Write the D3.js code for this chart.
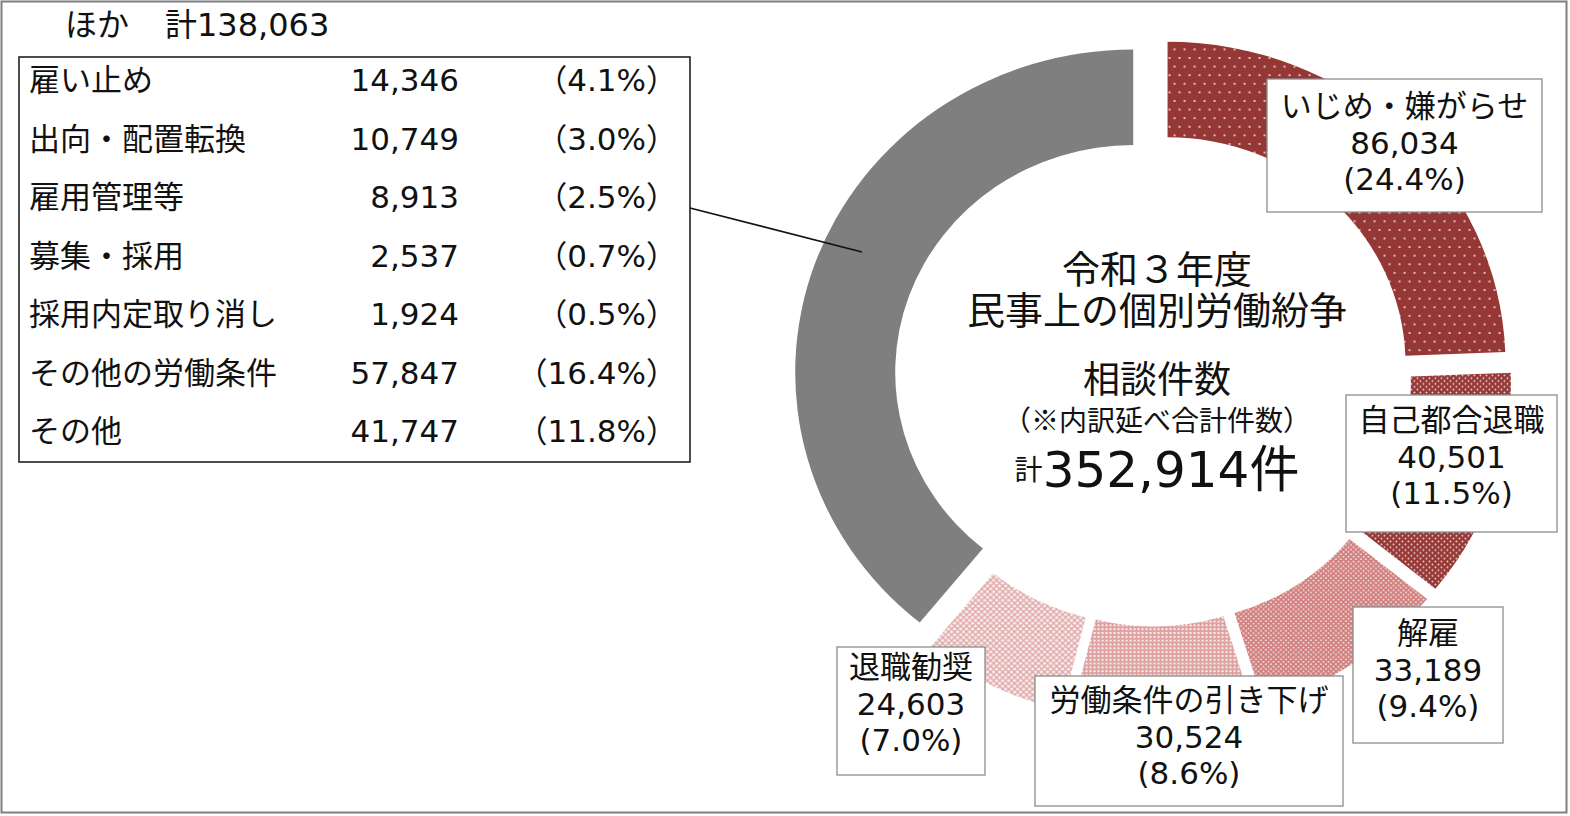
<!DOCTYPE html>
<html>
<head>
<meta charset="utf-8">
<script src="https://cdn.jsdelivr.net/npm/d3@7"></script>
<style>
  body { margin: 0; background: #fff; }
  text { font-family: "DejaVu Sans", "Noto Sans CJK JP", sans-serif; fill: #111; }
  .cjk { font-family: "Noto Sans CJK JP", sans-serif; }
</style>
</head>
<body>
<svg id="chart" width="1570" height="816"></svg>
<script>
// ---- data ----
var categories = ['いじめ・嫌がらせ', '自己都合退職', '解雇', '労働条件の引き下げ', '退職勧奨', 'ほか'];
var counts = [86034, 40501, 33189, 30524, 24603, 138063];

var otherNames = ['雇い止め', '出向・配置転換', '雇用管理等', '募集・採用', '採用内定取り消し', 'その他の労働条件', 'その他'];
var otherCounts = [14346, 10749, 8913, 2537, 1924, 57847, 41747];

var centerLines = ['令和３年度', '民事上の個別労働紛争', '相談件数', '（※内訳延べ合計件数）'];

// ---- layout ----
var W = 1570, H = 816;
var cx = 1153, cy = 379, squash = 0.955;
var outerR = 338, innerR = 238, explode = 21;

var fills = ['url(#p-bully)', 'url(#p-quit)', 'url(#p-fire)', 'url(#p-cut)', 'url(#p-push)', '#7f7f7f'];

// label boxes for the five named slices: [x, y, w, h, first line centre y]
var labelBoxes = [
  [1267, 79, 275, 133, 106],
  [1346, 395, 211, 137, 420],
  [1353, 607, 150, 136, 633],
  [1035, 676, 308, 130, 700],
  [837, 647, 148, 128, 667]
];
var lineGap = 36.5;

var total = d3.sum(counts);
var fmtN = d3.format(',');
var fmtP = function (v) { return d3.format('.1f')(v / total * 100) + '%'; };

var svg = d3.select('#chart');

/*=================
=== patterns
=================*/
var defs = svg.append('defs');

function dotPattern(id, w, h, bg, dots, dotColor, r) {
	var p = defs.append('pattern').attr('id', id)
		.attr('patternUnits', 'userSpaceOnUse')
		.attr('width', w).attr('height', h);
	p.append('rect').attr('width', w).attr('height', h).attr('fill', bg);
	dots.forEach(function (d) {
		p.append('circle').attr('cx', d[0]).attr('cy', d[1]).attr('r', r).attr('fill', dotColor);
	});
	return p;
}

dotPattern('p-bully', 10, 18, '#953735', [[2, 3], [7, 12]], '#f3dcdc', 1.1);
dotPattern('p-quit', 6, 6, '#953735', [[1.5, 1.5], [4.5, 4.5]], '#f1d6d6', 0.95);
dotPattern('p-fire', 5, 5, '#d07f7e', [[1.2, 1.2], [3.7, 3.7]], '#fbeeee', 0.9);

var pc = defs.append('pattern').attr('id', 'p-cut')
	.attr('patternUnits', 'userSpaceOnUse').attr('width', 4).attr('height', 4);
pc.append('rect').attr('width', 4).attr('height', 4).attr('fill', '#dea2a2');
pc.append('rect').attr('width', 2).attr('height', 2).attr('fill', '#fbeeee');

var pp = defs.append('pattern').attr('id', 'p-push')
	.attr('patternUnits', 'userSpaceOnUse').attr('width', 6).attr('height', 6);
pp.append('rect').attr('width', 6).attr('height', 6).attr('fill', '#fbf0f0');
pp.append('path').attr('d', 'M0,3 L3,0 L6,3 L3,6 Z').attr('fill', 'none')
	.attr('stroke', '#dea3a3').attr('stroke-width', 1.3);

/*=================
=== frame
=================*/
svg.append('rect')
	.attr('x', 1.5).attr('y', 1.5).attr('width', W - 5).attr('height', H - 5)
	.attr('fill', 'none').attr('stroke', '#7f7f7f').attr('stroke-width', 2);

/*=================
=== donut
=================*/
var pie = d3.pie().sort(null).value(function (d) { return d; });
var arc = d3.arc().innerRadius(innerR).outerRadius(outerR);
var arcs = pie(counts);

var ring = svg.append('g')
	.attr('transform', 'translate(' + cx + ',' + cy + ') scale(1,' + squash + ')');

ring.selectAll('path')
	.data(arcs)
	.enter().append('path')
	.attr('transform', function (d) {
		var mid = (d.startAngle + d.endAngle) / 2;
		return 'translate(' + (explode * Math.sin(mid)) + ',' + (-explode * Math.cos(mid)) + ')';
	})
	.attr('fill', function (d, i) { return fills[i]; })
	.attr('d', arc);

/*=================
=== slice labels
=================*/
var labels = svg.append('g').attr('class', 'labels');
labelBoxes.forEach(function (b, i) {
	var g = labels.append('g');
	g.append('rect')
		.attr('x', b[0]).attr('y', b[1]).attr('width', b[2]).attr('height', b[3])
		.attr('fill', '#fff').attr('stroke', '#8c8c8c').attr('stroke-width', 1.3);
	var mx = b[0] + b[2] / 2;
	[categories[i], fmtN(counts[i]), '(' + fmtP(counts[i]) + ')'].forEach(function (t, j) {
		g.append('text')
			.attr('x', mx).attr('y', b[4] + j * lineGap)
			.attr('text-anchor', 'middle').attr('dominant-baseline', 'central')
			.style('font-size', '31px')
			.text(t);
	});
});

/*=================
=== centre text
=================*/
var ct = svg.append('g').attr('transform', 'translate(1157,0)');
var centerY = [270, 311, 380, 419];
var centerSize = [38, 38, 37, 28];
centerLines.forEach(function (t, i) {
	ct.append('text')
		.attr('class', i === 3 ? 'cjk' : null)
		.attr('x', 0).attr('y', centerY[i])
		.attr('text-anchor', 'middle').attr('dominant-baseline', 'central')
		.style('font-size', centerSize[i] + 'px')
		.text(t);
});
var tot = ct.append('text')
	.attr('x', 0).attr('y', 470)
	.attr('text-anchor', 'middle').attr('dominant-baseline', 'central');
tot.append('tspan').style('font-size', '28px').text('計');
tot.append('tspan').style('font-size', '50px').text(fmtN(total) + '件');

/*=================
=== breakdown of ほか
=================*/
svg.append('text')
	.attr('x', 65).attr('y', 25).attr('dominant-baseline', 'central')
	.style('font-size', '32px').text('ほか');
svg.append('text')
	.attr('x', 165).attr('y', 25).attr('dominant-baseline', 'central')
	.style('font-size', '32px').text('計' + fmtN(counts[5]));

svg.append('rect')
	.attr('x', 19).attr('y', 57).attr('width', 671).attr('height', 405)
	.attr('fill', '#fff').attr('stroke', '#222').attr('stroke-width', 1.6);

var rowY = d3.scalePoint().domain(otherNames).range([80, 431]);

var rows = svg.append('g').selectAll('g')
	.data(otherNames)
	.enter().append('g')
	.attr('transform', function (d) { return 'translate(0,' + rowY(d) + ')'; });

rows.append('text').attr('x', 29).attr('dominant-baseline', 'central')
	.style('font-size', '31px').text(function (d) { return d; });
rows.append('text').attr('x', 459).attr('text-anchor', 'end').attr('dominant-baseline', 'central')
	.style('font-size', '31px').text(function (d, i) { return fmtN(otherCounts[i]); });
rows.append('text').attr('x', 677).attr('text-anchor', 'end').attr('dominant-baseline', 'central')
	.style('font-size', '31px').text(function (d, i) { return '（' + fmtP(otherCounts[i]) + '）'; });

// leader line from the table to the grey slice
svg.append('line')
	.attr('x1', 690).attr('y1', 208).attr('x2', 862).attr('y2', 252)
	.attr('stroke', '#111').attr('stroke-width', 1.6);
</script>
</body>
</html>
